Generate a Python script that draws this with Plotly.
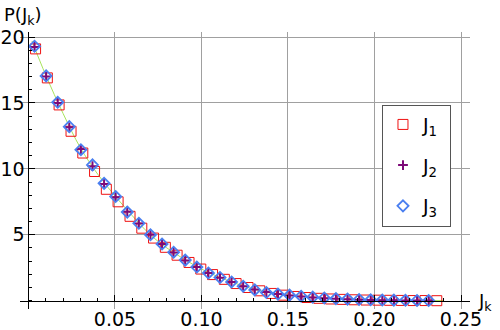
import plotly.graph_objects as go

# bin centres of J_k
j1_x = [0.0041, 0.0109, 0.0177, 0.0246, 0.0314, 0.0382, 0.0450, 0.0518, 0.0587, 0.0655,
        0.0723, 0.0791, 0.0859, 0.0928, 0.0996, 0.1064, 0.1132, 0.1200, 0.1269, 0.1337,
        0.1405, 0.1473, 0.1541, 0.1610, 0.1678, 0.1746, 0.1814, 0.1882, 0.1951, 0.2019,
        0.2087, 0.2155, 0.2223, 0.2292, 0.2360]
j23_x = [0.0035, 0.0102, 0.0169, 0.0236, 0.0303, 0.0370, 0.0437, 0.0504, 0.0571, 0.0638,
         0.0705, 0.0772, 0.0839, 0.0906, 0.0973, 0.1040, 0.1107, 0.1174, 0.1241, 0.1308,
         0.1375, 0.1442, 0.1509, 0.1576, 0.1643, 0.1710, 0.1777, 0.1844, 0.1911, 0.1978,
         0.2045, 0.2112, 0.2179, 0.2246, 0.2313]

j1_p = [19.1, 16.9, 14.85, 12.85, 11.2, 9.8, 8.45, 7.5, 6.4, 5.5,
        4.75, 4.05, 3.45, 2.9, 2.4, 1.98, 1.62, 1.3, 1.0, 0.75,
        0.55, 0.42, 0.32, 0.24, 0.18, 0.13, 0.1, 0.07, 0.05, 0.04,
        0.03, 0.02, 0.01, 0.01, 0.0]
j2_p = [19.25, 17.0, 15.0, 13.15, 11.5, 10.2, 8.85, 7.85, 6.75, 5.85,
        5.0, 4.3, 3.65, 3.05, 2.55, 2.1, 1.74, 1.42, 1.1, 0.84,
        0.65, 0.5, 0.4, 0.32, 0.25, 0.19, 0.15, 0.11, 0.08, 0.06,
        0.04, 0.03, 0.02, 0.01, 0.01]
j3_p = [19.3, 17.05, 15.05, 13.2, 11.45, 10.3, 8.9, 7.9, 6.72, 5.87,
        5.0, 4.3, 3.68, 3.08, 2.55, 2.1, 1.76, 1.42, 1.1, 0.82,
        0.62, 0.5, 0.42, 0.34, 0.27, 0.21, 0.16, 0.12, 0.09, 0.07,
        0.05, 0.04, 0.03, 0.02, 0.01]

# smooth reference curve
curve_x = [0.002, 0.01, 0.02, 0.03, 0.04, 0.05, 0.06, 0.07, 0.08, 0.09, 0.10, 0.11, 0.12,
           0.13, 0.14, 0.15, 0.16, 0.17, 0.18, 0.19, 0.20, 0.21, 0.22, 0.23, 0.24]
curve_p = [19.7, 17.1, 14.2, 11.6, 9.6, 7.95, 6.45, 5.05, 4.0, 3.15, 2.4, 1.8, 1.3,
           0.88, 0.58, 0.43, 0.31, 0.21, 0.14, 0.09, 0.06, 0.04, 0.025, 0.015, 0.01]

x_ticks = [0.05, 0.10, 0.15, 0.20, 0.25]
x_labels = ['0.05', '0.10', '0.15', '0.20', '0.25']
y_ticks = [5, 10, 15, 20]

xr = [-0.0049, 0.2552]
yr = [-0.63, 20.38]

font = 'DejaVu Sans'

fig = go.Figure()
fig.add_trace(go.Scatter(x=curve_x, y=curve_p, mode='lines', showlegend=False,
                         line=dict(color='#a8e45c', width=1, shape='spline')))
fig.add_trace(go.Scatter(x=j1_x, y=j1_p, mode='markers', name='J<sub>1</sub>&nbsp;', legendgroup='1',
                         marker=dict(symbol='square-open', size=10, color='#ee1111',
                                     line=dict(width=1))))
fig.add_trace(go.Scatter(x=j23_x, y=j2_p, mode='markers', name='J<sub>2</sub>&nbsp;', legendgroup='2',
                         marker=dict(symbol='cross-thin-open', size=7, color='#7d0a78',
                                     line=dict(width=2, color='#7d0a78'))))
fig.add_trace(go.Scatter(x=j23_x, y=j3_p, mode='markers', name='J<sub>3</sub>&nbsp;', legendgroup='3',
                         marker=dict(symbol='diamond-open', size=8.5, color='#4a7ff0',
                                     line=dict(width=1.8))))

fig.update_layout(
    width=500, height=330,
    margin=dict(l=20, r=30, t=32, b=21),
    paper_bgcolor='white', plot_bgcolor='white',
    font=dict(family=font, size=19, color='black'),
    showlegend=True,
    legend=dict(x=0.8044, y=0.738, xanchor='left', yanchor='top',
                bgcolor='white', bordercolor='#555555', borderwidth=1,
                font=dict(size=19), tracegroupgap=13, itemwidth=30),
    xaxis=dict(range=xr, anchor='free', position=(0 - yr[0]) / (yr[1] - yr[0]),
               automargin=False, ticklabelstandoff=2,
               showline=True, linecolor='black', linewidth=1, zeroline=False,
               ticks='inside', ticklen=6, tickcolor='black',
               tickvals=x_ticks, ticktext=x_labels,
               showgrid=True, gridcolor='#a0a0a0', gridwidth=1,
               minor=dict(dtick=0.01, tick0=0, ticks='inside', ticklen=3,
                          tickcolor='black', showgrid=False)),
    yaxis=dict(range=yr, anchor='free', position=(0 - xr[0]) / (xr[1] - xr[0]),
               automargin=False,
               showline=True, linecolor='black', linewidth=1, zeroline=False,
               ticks='inside', ticklen=6, tickcolor='black',
               tickvals=y_ticks,
               showgrid=True, gridcolor='#a0a0a0', gridwidth=1,
               minor=dict(dtick=1, tick0=0, ticks='inside', ticklen=3,
                          tickcolor='black', showgrid=False)),
    annotations=[
        dict(text='P(J<sub>k</sub>)', xref='paper', yref='paper', x=-0.04, y=1.108,
             xanchor='left', yanchor='top', showarrow=False, font=dict(size=18)),
        dict(text='J<sub>k</sub>', xref='paper', yref='paper', x=1.0144, y=0.026,
             xanchor='left', yanchor='middle', showarrow=False, font=dict(size=18)),
    ],
)

# drop the browser's default 8px body margin so the figure sits at the page corner
fig.write_html('out.html', config={'displayModeBar': False},
               post_script="document.body.style.margin='0';")
